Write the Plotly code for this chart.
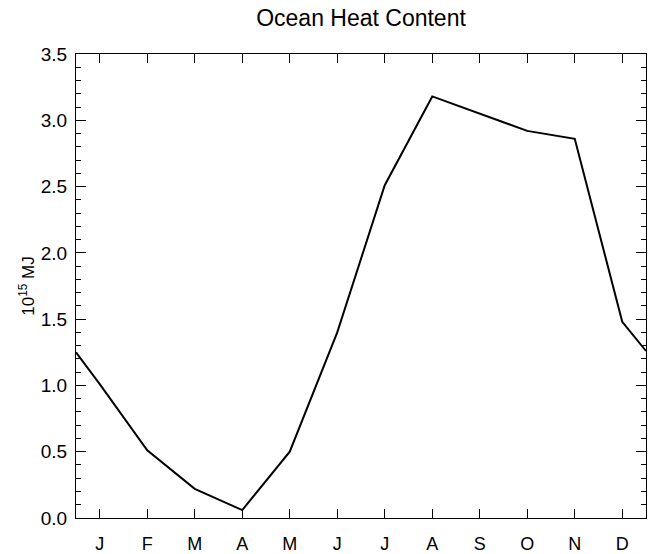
import plotly.graph_objects as go

# Data (x: month position, 1 = Jan centre; edges at 0.5 / 12.5)
month_pos = [0.5, 1, 2, 3, 4, 5, 6, 7, 8, 9, 10, 11, 12, 12.5]
heat_content = [1.25, 1.01, 0.51, 0.22, 0.06, 0.50, 1.40, 2.51, 3.18, 3.05, 2.92, 2.86, 1.48, 1.26]
tick_pos = [1, 2, 3, 4, 5, 6, 7, 8, 9, 10, 11, 12]
tick_labels = ["J", "F", "M", "A", "M", "J", "J", "A", "S", "O", "N", "D"]

FONT = "Liberation Sans, Arial, Helvetica, sans-serif"

fig = go.Figure()
fig.add_trace(go.Scatter(
    x=month_pos, y=heat_content, mode="lines",
    line=dict(color="black", width=2),
    showlegend=False, hoverinfo="skip",
))

fig.update_layout(
    width=653, height=554,
    margin=dict(l=76, r=7, t=54, b=36, pad=0),
    paper_bgcolor="white", plot_bgcolor="white",
    font=dict(family=FONT, color="black", size=19),
    title=dict(text="Ocean Heat Content", x=0.5, xanchor="center",
               xref="paper", y=1 - 18 / 554, yanchor="middle",
               font=dict(family=FONT, size=23, color="black")),
    xaxis=dict(
        range=[0.5, 12.5], tickmode="array", tickvals=tick_pos, ticktext=tick_labels,
        ticks="inside", ticklen=9, tickwidth=1, tickcolor="black",
        showline=True, linecolor="black", linewidth=1, mirror="allticks",
        showgrid=False, zeroline=False, ticklabelstandoff=9, automargin=False,
        tickfont=dict(family=FONT, size=18, color="black"),
    ),
    yaxis=dict(
        range=[0, 3.5], tickmode="linear", tick0=0, dtick=0.5, tickformat=".1f",
        ticks="inside", ticklen=10, tickwidth=1, tickcolor="black",
        minor=dict(dtick=0.1, tick0=0, ticks="inside", ticklen=5, tickwidth=1,
                   tickcolor="black", showgrid=False),
        showline=True, linecolor="black", linewidth=1, mirror="allticks",
        showgrid=False, zeroline=False, ticklabelstandoff=4, automargin=False,
        tickfont=dict(family=FONT, size=19, color="black"),
        title=dict(text="10<sup>15</sup> MJ", standoff=1,
                   font=dict(family=FONT, size=17, color="black")),
    ),
)

fig.write_html("out.html")
